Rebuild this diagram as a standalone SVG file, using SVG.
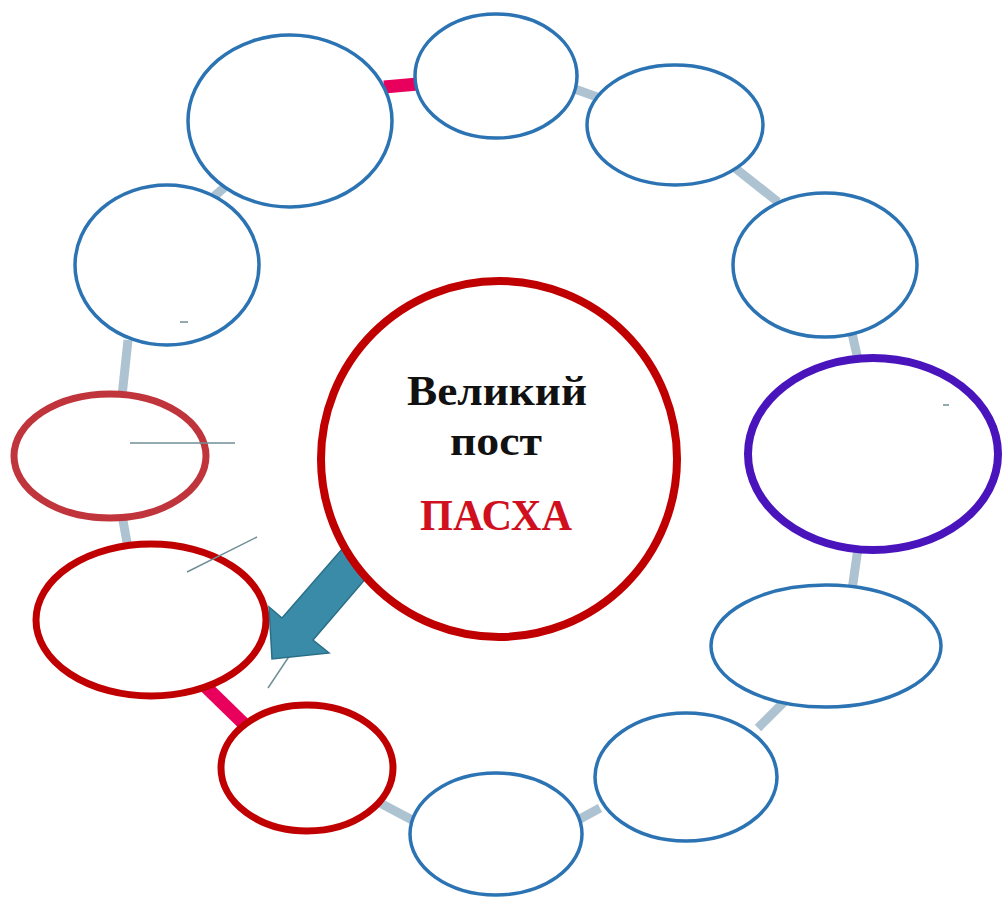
<svg xmlns="http://www.w3.org/2000/svg" width="1005" height="897" viewBox="0 0 1005 897">
<style>
.bg{fill:#ffffff}
.conn{stroke:#aec3d2;stroke-width:9;stroke-linecap:butt;fill:none}
.pink{stroke:#e8005c;stroke-width:13;stroke-linecap:butt;fill:none}
.blue{fill:#ffffff;stroke:#2b73b3;stroke-width:3.5}
.red{fill:#ffffff;stroke:#c00000;stroke-width:7}
.red2{fill:#ffffff;stroke:#c0343c;stroke-width:7}
.purple{fill:#ffffff;stroke:#4a14bc;stroke-width:8}
.thin{stroke:#6f8f96;stroke-width:1.5;fill:none}
.t{font-family:"Liberation Serif","DejaVu Serif",serif;font-weight:bold;text-anchor:middle}
</style>
<rect class="bg" x="0" y="0" width="1005" height="897"/>
<g id="connectors">
<line class="pink" x1="384" y1="87" x2="418" y2="84"/>
<line class="conn" x1="572" y1="88" x2="600" y2="98"/>
<line class="conn" x1="735" y1="168" x2="778" y2="202"/>
<line class="conn" x1="852" y1="333" x2="858" y2="360"/>
<line class="conn" x1="858" y1="548" x2="852" y2="590"/>
<line class="conn" x1="788" y1="698" x2="758" y2="728"/>
<line class="conn" x1="600" y1="808" x2="578" y2="820"/>
<line class="conn" x1="380" y1="803" x2="414" y2="821"/>
<line class="pink" x1="205" y1="686" x2="244" y2="724"/>
<line class="conn" x1="122" y1="515" x2="128" y2="548"/>
<line class="conn" x1="128" y1="340" x2="122" y2="396"/>
<line class="conn" x1="210" y1="200" x2="226" y2="186"/>
</g>
<g id="node-top-left-large"><ellipse class="blue" cx="290" cy="121" rx="102" ry="86"/></g>
<g id="node-top"><ellipse class="blue" cx="496" cy="76" rx="81" ry="62"/></g>
<g id="node-top-right"><ellipse class="blue" cx="675" cy="125" rx="88" ry="60"/></g>
<g id="node-right-upper"><ellipse class="blue" cx="825" cy="265" rx="92" ry="72"/></g>
<g id="node-right-purple"><ellipse class="purple" cx="873" cy="454" rx="125" ry="96"/><line class="thin" x1="943" y1="405" x2="949" y2="405"/></g>
<g id="node-right-lower"><ellipse class="blue" cx="826" cy="646" rx="115" ry="61"/></g>
<g id="node-bottom-right"><ellipse class="blue" cx="686" cy="777" rx="91" ry="64"/></g>
<g id="node-bottom"><ellipse class="blue" cx="496" cy="834" rx="86" ry="61"/></g>
<g id="node-bottom-left-red"><ellipse class="red" cx="307" cy="768" rx="86" ry="63"/></g>
<g id="node-left-lower-red"><ellipse class="red" cx="151" cy="620" rx="115" ry="76"/></g>
<g id="node-left-red"><ellipse class="red2" cx="110" cy="456" rx="96" ry="62"/><line class="thin" x1="130" y1="443" x2="235" y2="443"/></g>
<g id="node-left-upper"><ellipse class="blue" cx="167" cy="265" rx="92" ry="80"/><line class="thin" x1="180" y1="322" x2="188" y2="322"/></g>
<g id="thin-lines">
<line class="thin" x1="187" y1="572" x2="257" y2="537"/>
<line class="thin" x1="268" y1="688" x2="290" y2="655"/>
</g>
<g id="arrow">
<path d="M350,540 L282,618 L269,607 L272,659 L329,653 L313,640 L380,562 Z" fill="#3a8ba8" stroke="#2b6f87" stroke-width="1.5"/>
</g>
<g id="node-center">
<circle cx="499" cy="459" r="178" fill="#ffffff" stroke="#c00000" stroke-width="8"/>
<text class="t" x="497" y="405" font-size="42" fill="#111111" textLength="180" lengthAdjust="spacingAndGlyphs">Великий</text>
<text class="t" x="496" y="455" font-size="42" fill="#111111" textLength="92" lengthAdjust="spacingAndGlyphs">пост</text>
<text class="t" x="496" y="530" font-size="44" fill="#d0101e" textLength="152" lengthAdjust="spacingAndGlyphs">ПАСХА</text>
</g>
</svg>
